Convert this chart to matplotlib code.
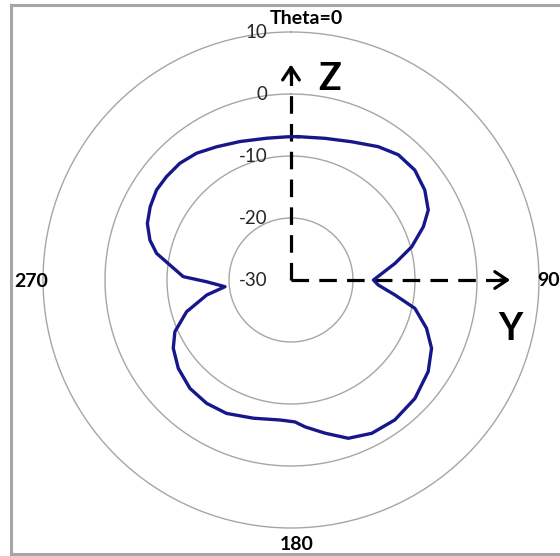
import numpy as np
import matplotlib.pyplot as plt
from matplotlib.lines import Line2D

# gain pattern (theta in degrees, clockwise from top; gain in dB)
theta_deg = [2.9, 13.5, 23.7, 33.2, 40.6, 48.4, 56.1, 63.0, 68.1, 74.6, 80.9, 90.0,
             93.3, 98.2, 102.9, 109.6, 115.9, 123.7, 133.7, 143.4, 152.2, 160.1, 167.5,
             174.5, 178.4, 184.5, 195.2, 205.8, 214.4, 223.0, 231.9, 239.9, 246.0,
             253.1, 259.9, 264.2, 268.8, 271.8, 277.1, 281.2, 285.8, 291.5, 297.5,
             303.8, 309.7, 316.4, 323.3, 330.9, 339.8, 350.3, 358.3, 362.9]
gain_db = [-6.85, -6.5, -5.65, -4.3, -3.4, -3.3, -4.0, -5.15, -7.0, -9.8, -13.0, -16.7,
           -15.9, -13.05, -9.5, -6.8, -4.8, -3.4, -2.35, -1.9, -2.05, -2.85, -4.7,
           -6.2, -7.1, -7.35, -6.9, -6.1, -5.9, -6.1, -6.9, -8.05, -9.5,
           -12.4, -16.2, -19.3, -16.4, -12.6, -10.3, -7.9, -6.35, -5.1, -4.4,
           -3.9, -3.9, -4.0, -4.5, -5.4, -6.2, -6.8, -6.9, -6.85]

r_ticks = [-30, -20, -10, 0, 10]
angle_labels = ["Theta=0", "90", "180", "270"]

plt.rcParams['font.family'] = ['Lato', 'DejaVu Sans']

fig = plt.figure(figsize=(5.6, 5.56), dpi=100)

# outer chart frame
for xs, ys in [([0.02, 0.02], [0.002, 0.991]),
               ([0.02, 1.0], [0.991, 0.991]),
               ([0.02, 1.0], [0.003, 0.003])]:
    fig.add_artist(Line2D(xs, ys, transform=fig.transFigure, color="#a6a6a6", lw=2.2))

ax = fig.add_axes([43 / 560, 28 / 556, 496 / 560, 496 / 556], projection="polar")
ax.set_theta_zero_location("N")
ax.set_theta_direction(-1)
ax.set_rlim(-30, 10)
ax.set_rticks(r_ticks)
ax.set_yticklabels([])
ax.set_xticks([])
ax.grid(False)
ax.spines["polar"].set_color("#a6a6a6")
ax.spines["polar"].set_linewidth(1.0)

# rings
t = np.linspace(0, 2 * np.pi, 400)
for r in r_ticks[1:-1]:
    ax.plot(t, np.full_like(t, r), color="#a6a6a6", lw=1.0, zorder=1)

# radial labels along the top spoke
for r in r_ticks:
    ax.annotate(str(r), xy=(0, r), xytext=(-17, 0), textcoords="offset points",
                ha="right", va="center", fontsize=13.5, color="#262626", zorder=5)

# labels around the edge
ax.text(0.532, 1.028, angle_labels[0], transform=ax.transAxes, ha="center", va="center",
        fontsize=14, fontweight="bold")
ax.text(0.996, 0.5, angle_labels[1], transform=ax.transAxes, ha="left", va="center",
        fontsize=14, fontweight="bold")
ax.text(0.512, -0.034, angle_labels[2], transform=ax.transAxes, ha="center", va="center",
        fontsize=14, fontweight="bold")
ax.text(-0.023, 0.496, angle_labels[3], transform=ax.transAxes, ha="center", va="center",
        fontsize=14, fontweight="bold")

# dashed coordinate axes with open arrowheads
for ang, r_end in [(0, 5.2), (np.pi / 2, 5.8)]:
    ax.plot([ang, ang], [-30, r_end - 0.5], color="black", lw=2.3,
            linestyle=(0, (5.5, 3.2)), zorder=3)
    ax.annotate("", xy=(ang, r_end), xytext=(ang, r_end - 2.5),
                arrowprops=dict(arrowstyle="->, head_length=0.9, head_width=0.6",
                                color="black", lw=2.3, mutation_scale=10), zorder=3)

ax.text(0.554, 0.883, "Z", transform=ax.transAxes, fontsize=27, fontweight="bold",
        va="baseline")
ax.text(0.917, 0.379, "Y", transform=ax.transAxes, fontsize=27, fontweight="bold",
        va="baseline")

# pattern
ax.plot(np.deg2rad(theta_deg), gain_db, color="#17178c", lw=2.4, zorder=4)

fig.savefig("out.png", dpi=100)
